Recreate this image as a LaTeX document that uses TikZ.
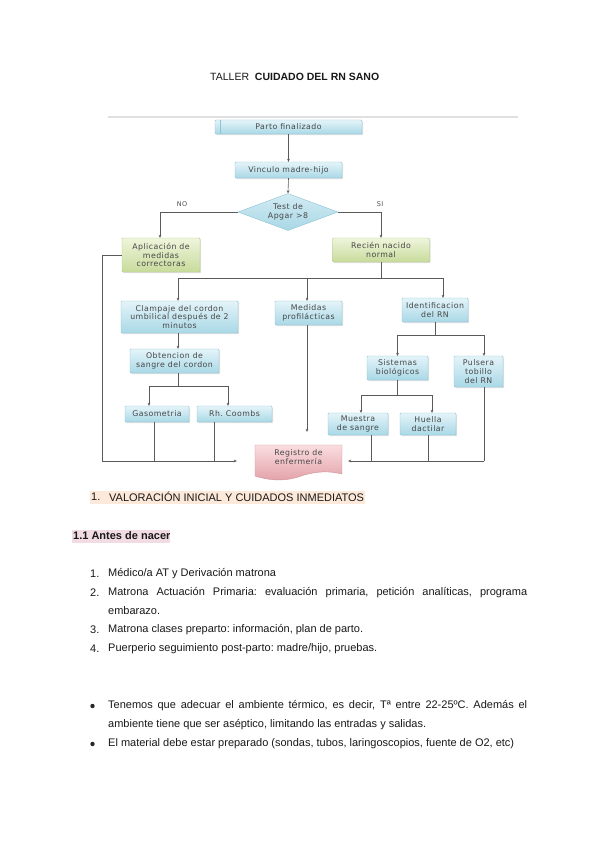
\documentclass[tikz,border=0pt]{standalone}
\usepackage{fontspec}
\setmainfont{Liberation Sans}
\newfontfamily\flowfont[LetterSpace=6]{DejaVu Sans}
\usetikzlibrary{shapes.geometric,arrows.meta,shadows}
\definecolor{bxtop}{HTML}{E4F4F9}
\definecolor{bxbot}{HTML}{A9D8E6}
\definecolor{bxdraw}{HTML}{8CC4D6}
\definecolor{grtop}{HTML}{EEF5DC}
\definecolor{grbot}{HTML}{C8DB9B}
\definecolor{grdraw}{HTML}{B0C985}
\definecolor{rdtop}{HTML}{FADDE0}
\definecolor{rdbot}{HTML}{E2A0A7}
\definecolor{rddraw}{HTML}{D08E96}
\definecolor{peach}{HTML}{FDE9D9}
\definecolor{pinkhl}{HTML}{F2DCE3}
\definecolor{conn}{HTML}{5A5A5A}
\frenchspacing
\begin{document}
\begin{tikzpicture}[x=1pt,y=-1pt,
  fbox/.style={rounded corners=1pt, font=\flowfont\fontsize{7.8}{8.8}\selectfont,
    text=black!72, align=center, inner sep=0.5pt,
    drop shadow={opacity=0.25, shadow xshift=1.2pt, shadow yshift=-1.2pt}},
  bluebox/.style={fbox, top color=bxtop, bottom color=bxbot, draw=bxdraw, line width=0.4pt},
  greenbox/.style={fbox, top color=grtop, bottom color=grbot, draw=grdraw, line width=0.4pt},
  diam/.style={diamond, aspect=2.7, inner sep=0pt, top color=bxtop!70!bxbot, bottom color=bxbot,
    draw=bxdraw, line width=0.4pt, font=\flowfont\fontsize{7.8}{8.8}\selectfont, text=black!72, align=center},
  regtext/.style={font=\flowfont\fontsize{7.8}{8.8}\selectfont, text=black!72, align=center, inner sep=0pt},
  ln/.style={draw=conn, line width=0.6pt},
  arr/.style={ln, -{Stealth[length=3pt,width=2.8pt]}},
  lbl/.style={font=\flowfont\fontsize{6.5}{7}\selectfont, text=black!70},
  body/.style={anchor=west, inner sep=0pt, font=\fontsize{11}{13}\selectfont, text=black!90}
]
\useasboundingbox[fill=white] (0,0) rectangle (600,848);

% title
\node[body, font=\fontsize{10.5}{12}\selectfont] (title) at (210,77) {TALLER\ \ \textbf{CUIDADO DEL RN SANO}};

% faint top border of flowchart
\draw[black!12, line width=1.2pt] (108,117) -- (518,117);

% flowchart boxes
\node[bluebox, minimum width=147, minimum height=14] (parto) at (288.5,127) {Parto finalizado};
\draw[bxdraw, line width=0.4pt] ([xshift=5pt]parto.north west) -- ([xshift=5pt]parto.south west);
\node[bluebox, minimum width=107, minimum height=16] (vinc) at (288.5,170) {Vinculo madre-hijo};
\node[diam, minimum width=100, minimum height=37] (apgar) at (288,212) {Test de\\Apgar >8};
\node[lbl] (no) at (182,204) {NO};
\node[lbl] (si) at (380,204) {SI};
\node[greenbox, minimum width=78, minimum height=34] (apl) at (161,255) {Aplicación de\\medidas\\correctoras};
\node[greenbox, minimum width=97, minimum height=24] (rec) at (381,250) {Recién nacido\\normal};

\node[bluebox, minimum width=117, minimum height=32] (clamp) at (179.5,317) {Clampaje del cordon\\umbilical después de 2\\minutos};
\node[bluebox, minimum width=67, minimum height=24] (med) at (308.5,313) {Medidas\\profilácticas};
\node[bluebox, minimum width=66, minimum height=24] (ident) at (435,310) {Identificacion\\del RN};

\node[bluebox, minimum width=89, minimum height=24] (obt) at (174.5,361) {Obtencion de\\sangre del cordon};
\node[bluebox, minimum width=64, minimum height=16] (gas) at (157,414) {Gasometria};
\node[bluebox, minimum width=75, minimum height=16] (rh) at (234.5,414) {Rh. Coombs};

\node[bluebox, minimum width=61, minimum height=24] (sis) at (397.5,368) {Sistemas\\biológicos};
\node[bluebox, minimum width=49, minimum height=31] (pul) at (478.5,371.5) {Pulsera\\tobillo\\del RN};
\node[bluebox, minimum width=60, minimum height=22] (mue) at (358,424) {Muestra\\de sangre};
\node[bluebox, minimum width=56, minimum height=22] (hue) at (428,424) {Huella\\dactilar};

% registro (document shape)
\path[top color=rdtop, bottom color=rdbot, draw=rddraw, line width=0.4pt]
  (255,445) -- (342,445) -- (342,474)
  .. controls (326,470) and (312,472) .. (298,477)
  .. controls (282,482) and (268,480) .. (255,476) -- cycle;
\node[regtext, minimum width=87, minimum height=26] (reg) at (298.5,457) {Registro de\\enfermería};

% connectors
\draw[arr] (parto.south) -- (vinc.north);
\draw[arr] (vinc.south) -- (apgar.north);
\draw[arr] (apgar.west) -| ([xshift=-1pt]apl.north);
\draw[arr] (apgar.east) -| (rec.north);

\coordinate (j1) at (381,278);
\draw[ln] (rec.south) -- (j1);
\draw[arr] (j1) -| ([xshift=-1.5pt]clamp.north);
\draw[arr] (j1) -| ([xshift=-1.5pt]med.north);
\draw[arr] (j1) -| ([xshift=8pt]ident.north);

\draw[arr] ([xshift=-1.5pt]clamp.south) -- ([xshift=-1.5pt]clamp.south |- obt.north);
\coordinate (j2) at (178,386);
\draw[ln] (obt.south -| j2) -- (j2);
\draw[arr] (j2) -| ([xshift=-8pt]gas.north);
\draw[arr] (j2) -| ([xshift=-6.5pt]rh.north);

\coordinate (j3) at (435,335);
\draw[ln] (ident.south) -- (j3);
\draw[arr] (j3) -| (sis.north);
\draw[arr] (j3) -| ([xshift=5.5pt]pul.north);

\coordinate (j4) at (397,395);
\draw[ln] (sis.south -| j4) -- (j4);
\draw[arr] (j4) -| ([xshift=3pt]mue.north);
\draw[arr] (j4) -| ([xshift=4pt]hue.north);

\coordinate (bl) at (102,461);
\coordinate (br) at (484,461);
\draw[ln] (apl.west) -| (bl);
\draw[arr, shorten >=18pt] (bl) -- ([yshift=-4pt]reg.west);
\draw[ln] ([xshift=-3pt]gas.south) -- ([xshift=-3pt]gas.south |- bl);
\draw[ln] ([xshift=-20.5pt]rh.south) -- ([xshift=-20.5pt]rh.south |- bl);
\draw[arr, shorten >=12pt] ([xshift=-1.5pt]med.south) -- ([xshift=-1.5pt]med.south |- reg.north);
\draw[ln] ([xshift=5.5pt]pul.south) -- (br);
\draw[ln] ([xshift=13pt]mue.south) -- ([xshift=13pt]mue.south |- br);
\draw[ln] (hue.south) -- (hue.south |- br);
\draw[arr, shorten >=6pt] (br) -- ([yshift=-4pt]reg.east);

% section heading
\fill[peach] (90,491) rectangle (365,503.5);
\node[body] (h1n) at (91,497) {1.};
\node[body] (h1) at (109,497) {VALORACIÓN INICIAL Y CUIDADOS INMEDIATOS};
\fill[pinkhl] (72,530) rectangle (170,542.5);
\node[body] (h2) at (73,536) {\textbf{1.1 Antes de nacer}};

% numbered list
\node[body] (n1) at (90,574) {1.};
\node[body] (t1) at (108,574) {Médico/a AT y Derivación matrona};
\node[body] (n2) at (90,593) {2.};
\node[body] (t2) at (108,593) {\makebox[419pt][s]{Matrona Actuación Primaria: evaluación primaria, petición analíticas, programa}};
\node[body] (t2b) at (108,611) {embarazo.};
\node[body] (n3) at (90,630) {3.};
\node[body] (t3) at (108,630) {Matrona clases preparto: información, plan de parto.};
\node[body] (n4) at (90,649) {4.};
\node[body] (t4) at (108,649) {Puerperio seguimiento post-parto: madre/hijo, pruebas.};

% bullets
\fill[black!85] (92.5,706) circle (2.2);
\node[body] (b1) at (108,706) {\makebox[419pt][s]{Tenemos que adecuar el ambiente térmico, es decir, Tª entre 22-25ºC. Además el}};
\node[body] (b1b) at (108,725) {ambiente tiene que ser aséptico, limitando las entradas y salidas.};
\fill[black!85] (92.5,744) circle (2.2);
\node[body] (b2) at (108,744) {El material debe estar preparado (sondas, tubos, laringoscopios, fuente de O2, etc)};
\end{tikzpicture}
\end{document}
